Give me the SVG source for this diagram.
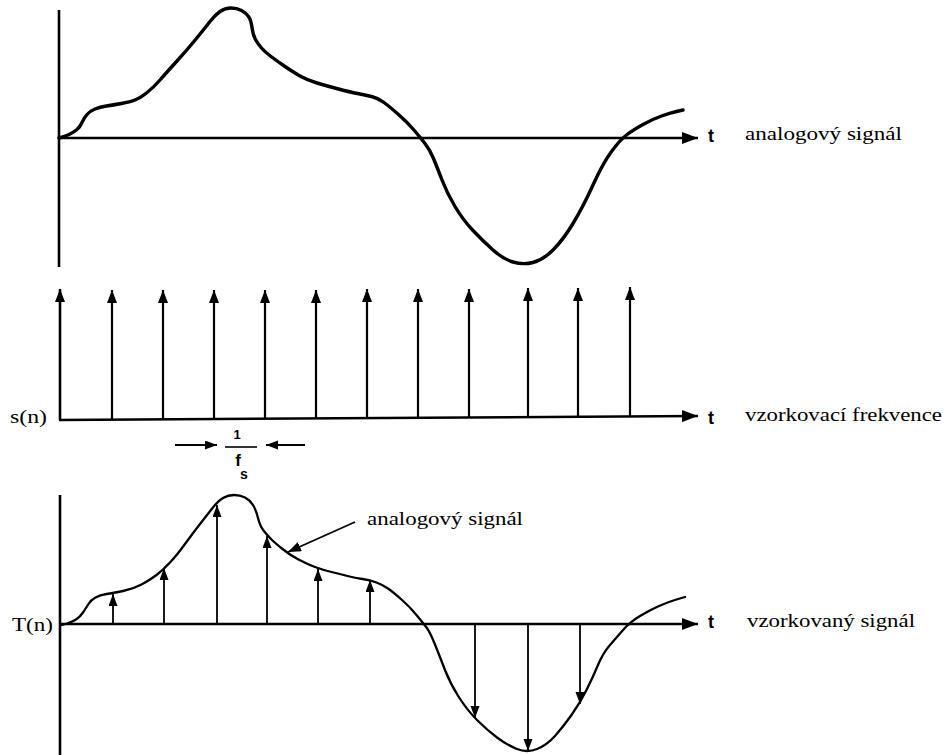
<svg xmlns="http://www.w3.org/2000/svg" width="946" height="755" viewBox="0 0 946 755">
<style>
.ax{stroke:#000;stroke-width:2.6;fill:none}
.cv{stroke:#000;fill:none;stroke-linejoin:round;stroke-linecap:round}
.ar{stroke:#000;stroke-width:2.2;fill:none}
.sa{stroke:#000;stroke-width:1.8;fill:none}
.lbl{font-family:"Liberation Serif","Times New Roman",serif;font-size:18px;fill:#000}
.tt{font-family:"Liberation Sans",Arial,sans-serif;font-weight:bold;font-size:18px;fill:#000}
.fr{font-family:"Liberation Sans",Arial,sans-serif;font-weight:bold;fill:#000}
</style>
<defs>
<marker id="axh" markerUnits="userSpaceOnUse" markerWidth="17" markerHeight="12" refX="16" refY="6" orient="auto"><path d="M0,0 L16,6 L0,12 z" fill="#000"/></marker>
<marker id="ah" markerUnits="userSpaceOnUse" markerWidth="13" markerHeight="11" refX="13" refY="5" orient="auto"><path d="M0,0 L13,5 L0,10 z" fill="#000"/></marker>
<marker id="sh" markerUnits="userSpaceOnUse" markerWidth="12" markerHeight="10" refX="12" refY="4.5" orient="auto"><path d="M0,0 L12,4.5 L0,9 z" fill="#000"/></marker>
</defs>
<rect width="946" height="755" fill="#fff"/>

<g id="top-plot">
<line class="ax" x1="59" y1="10" x2="59" y2="267"/>
<line class="ax" x1="59" y1="138" x2="698" y2="138" marker-end="url(#axh)"/>
<path class="cv" stroke-width="3.4" d="M59,138 L62.5,137 Q66,136 70,134 Q74,132 77,129.5 Q80,127 82,122.5 Q84,118 87,114.5 Q90,111 95,109 Q100,107 106.5,106 Q113,105 121.5,103.5 Q130,102 135,100 Q140,98 146.5,93 Q153,88 160,80 Q167,72 177,61 Q187,50 196,39 Q205,28 210,21.5 Q215,15 220,11.5 Q225,8 231,8 Q237,8 241.5,10.5 Q246,13 248.5,16.5 Q251,20 252,27.5 Q253,35 255.5,39.5 Q258,44 261.5,48 Q265,52 271,56.5 Q277,61 285,66.5 Q293,72 300,76 Q307,80 317,83 Q327,86 338.5,89 Q350,92 357.5,93.5 Q365,95 371.5,96.5 Q378,98 384,102.5 Q390,107 398.5,114.5 Q407,122 413.5,129.5 Q420,137 425,143.5 Q430,150 433.5,158.5 Q437,167 442,180 Q447,193 455,206.5 Q463,220 473,230.5 Q483,241 493,250 Q503,259 513,262 Q523,265 533,262.5 Q543,260 553,250 Q563,240 573,223.5 Q583,207 593,185 Q603,163 611.5,151.5 Q620,140 626.5,135 Q633,130 643,124.5 Q653,119 661.5,116 Q670,113 676.5,111.5 L683,110"/>
<text class="tt" x="708" y="142">t</text>
<text class="lbl" x="745" y="140" textLength="157" lengthAdjust="spacingAndGlyphs">analogový signál</text>
</g>

<g id="middle-plot">
<line class="ax" x1="59" y1="420" x2="698" y2="416" marker-end="url(#axh)"/>
<line class="ax" x1="60" y1="420" x2="60" y2="289" marker-end="url(#ah)"/>
<g class="ar">
<line x1="112" y1="420" x2="112" y2="290" marker-end="url(#ah)"/>
<line x1="163" y1="420" x2="163" y2="290" marker-end="url(#ah)"/>
<line x1="214" y1="419" x2="214" y2="290" marker-end="url(#ah)"/>
<line x1="265" y1="419" x2="265" y2="290" marker-end="url(#ah)"/>
<line x1="316" y1="419" x2="316" y2="290" marker-end="url(#ah)"/>
<line x1="367" y1="418" x2="367" y2="289" marker-end="url(#ah)"/>
<line x1="418" y1="418" x2="418" y2="289" marker-end="url(#ah)"/>
<line x1="469" y1="418" x2="469" y2="289" marker-end="url(#ah)"/>
<line x1="528" y1="417" x2="528" y2="288" marker-end="url(#ah)"/>
<line x1="578" y1="417" x2="578" y2="288" marker-end="url(#ah)"/>
<line x1="630" y1="416" x2="630" y2="287" marker-end="url(#ah)"/>
</g>
<text class="lbl" x="10" y="423" textLength="37" lengthAdjust="spacingAndGlyphs">s(n)</text>
<text class="tt" x="708" y="424">t</text>
<text class="lbl" x="745" y="421" textLength="197" lengthAdjust="spacingAndGlyphs">vzorkovací frekvence</text>
</g>

<g id="period-label">
<line class="sa" x1="175" y1="445" x2="217" y2="445" marker-end="url(#sh)"/>
<line class="sa" x1="305" y1="445" x2="266" y2="445" marker-end="url(#sh)"/>
<line x1="225" y1="447" x2="257" y2="447" stroke="#000" stroke-width="1.6"/>
<text class="fr" x="237" y="439" font-size="13" text-anchor="middle">1</text>
<text class="fr" x="238" y="466" font-size="17" text-anchor="middle">f</text>
<text class="fr" x="244" y="479" font-size="14" text-anchor="middle">s</text>
</g>

<g id="bottom-plot">
<line class="ax" x1="60" y1="495" x2="60" y2="755"/>
<line class="ax" x1="60" y1="624" x2="698" y2="624" marker-end="url(#axh)"/>
<path class="cv" stroke-width="2.3" d="M62,625 L67,623.5 Q72,622 76,619.5 Q80,617 83,612.5 Q86,608 88.5,604 Q91,600 95.5,597.5 Q100,595 106.5,594 Q113,593 123,591 Q133,589 141.5,584.5 Q150,580 156.5,575 Q163,570 170,562.5 Q177,555 185,544 Q193,533 200,524 Q207,515 212.5,508 Q218,501 223,498 Q228,495 234,495 Q240,495 245,497.5 Q250,500 253,505 Q256,510 258,518 Q260,526 263.5,530.5 Q267,535 271,539 Q275,543 282.5,549 Q290,555 298.5,559.5 Q307,564 315,567 Q323,570 331.5,572 Q340,574 347.5,576 Q355,578 362.5,579 Q370,580 376.5,582.5 Q383,585 388,588.5 Q393,592 401.5,599.5 Q410,607 416.5,615 Q423,623 426.5,627.5 Q430,632 435,644.5 Q440,657 445,670 Q450,683 458.5,696.5 Q467,710 477,720 Q487,730 497,737.5 Q507,745 517,749 Q527,753 537,749 Q547,745 555,736 Q563,727 571.5,715 Q580,703 586.5,690 Q593,677 598,665 Q603,653 610,645 Q617,637 623.5,629.5 Q630,622 640,616 Q650,610 659,606 Q668,602 676.5,599.5 L685,597"/>
<g class="sa">
<line x1="113" y1="624" x2="113" y2="594" marker-end="url(#sh)"/>
<line x1="164" y1="624" x2="164" y2="568" marker-end="url(#sh)"/>
<line x1="217" y1="624" x2="217" y2="505" marker-end="url(#sh)"/>
<line x1="267" y1="624" x2="267" y2="536" marker-end="url(#sh)"/>
<line x1="318" y1="624" x2="318" y2="569" marker-end="url(#sh)"/>
<line x1="370" y1="624" x2="370" y2="580" marker-end="url(#sh)"/>
<line x1="475" y1="624" x2="475" y2="718" marker-end="url(#sh)"/>
<line x1="528" y1="624" x2="528" y2="751" marker-end="url(#sh)"/>
<line x1="580" y1="624" x2="580" y2="704" marker-end="url(#sh)"/>
</g>
<text class="lbl" x="12" y="631" textLength="41" lengthAdjust="spacingAndGlyphs">T(n)</text>
<text class="tt" x="708" y="628">t</text>
<text class="lbl" x="747" y="627" textLength="168" lengthAdjust="spacingAndGlyphs">vzorkovaný signál</text>
</g>

<g id="connectors">
<line class="sa" stroke-width="2.2" x1="355" y1="522" x2="288" y2="552" marker-end="url(#ah)"/>
<text class="lbl" x="367" y="525" textLength="156" lengthAdjust="spacingAndGlyphs">analogový signál</text>
</g>
</svg>
